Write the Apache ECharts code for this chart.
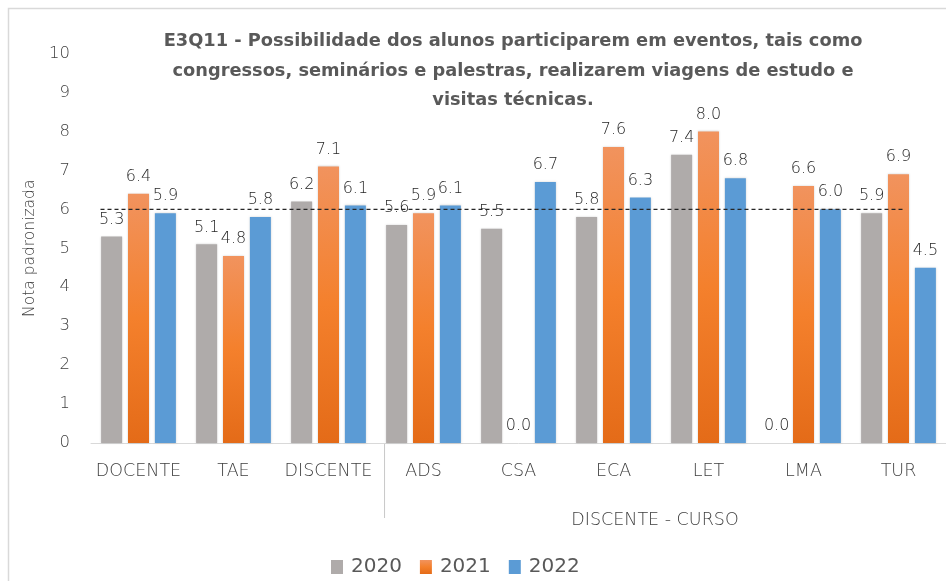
<!DOCTYPE html>
<html>
<head>
<meta charset="utf-8">
<script src="https://cdn.jsdelivr.net/npm/echarts@6/dist/echarts.min.js"></script>
<style>
  html, body { margin: 0; padding: 0; background: #fff; }
  #chart { width: 946px; height: 581px; }
</style>
</head>
<body>
<div id="chart"></div>
<script>
const categories = ['DOCENTE', 'TAE', 'DISCENTE', 'ADS', 'CSA', 'ECA', 'LET', 'LMA', 'TUR']
const values2020 = [5.3, 5.1, 6.2, 5.6, 5.5, 5.8, 7.4, 0.0, 5.9]
const values2021 = [6.4, 4.8, 7.1, 5.9, 0.0, 7.6, 8.0, 6.6, 6.9]
const values2022 = [5.9, 5.8, 6.1, 6.1, 6.7, 6.3, 6.8, 6.0, 4.5]
const yTicks = [0, 1, 2, 3, 4, 5, 6, 7, 8, 9, 10]
// reference line (nota 6) and its extent, in category index units
const refValue = 6
const refSpan = [-0.4, 8.07]
// group separator between DISCENTE and the courses, in category index units
const groupStart = 2.59
const groupLabel = 'DISCENTE - CURSO'

const textColor = '#404040'
const axisFont = '"DejaVu Sans", sans-serif'

const chart = echarts.init(document.getElementById('chart'))

function barSeries(name, data, color) {
  return {
    name: name,
    type: 'bar',
    data: data,
    barWidth: 21,
    barGap: '28%',
    itemStyle: {
      color: color,
      shadowBlur: 2,
      shadowColor: 'rgba(0,0,0,0.18)'
    },
    label: {
      show: true,
      position: 'top',
      distance: 9,
      color: '#262626',
      fontFamily: axisFont,
      fontWeight: 200,
      fontSize: 16,
      formatter: p => p.value.toFixed(1)
    }
  }
}

const orange = new echarts.graphic.LinearGradient(0, 0, 0, 1, [
  { offset: 0, color: '#F1935E' },
  { offset: 0.5, color: '#F4802C' },
  { offset: 1, color: '#E46B18' }
])

chart.setOption({
  animation: false,
  title: {
    text: 'E3Q11 - Possibilidade dos alunos participarem em eventos, tais como\ncongressos, seminários e palestras, realizarem viagens de estudo e\nvisitas técnicas.',
    left: 508,
    top: 22,
    textAlign: 'center',
    textStyle: {
      color: '#595959',
      fontFamily: '"DejaVu Sans", sans-serif',
      fontWeight: 'bold',
      fontSize: 17.8,
      lineHeight: 29.5
    }
  },
  legend: {
    data: ['2020', '2021', '2022'],
    left: 326,
    top: 552,
    icon: 'rect',
    itemWidth: 12,
    itemHeight: 14,
    itemGap: 18,
    textStyle: {
      color: '#595959',
      fontFamily: axisFont,
      fontSize: 20,
      padding: [0, 0, 0, 3]
    }
  },
  grid: {
    left: 91,
    right: -5,
    top: 53.5,
    bottom: 138
  },
  xAxis: [
    {
      type: 'category',
      data: categories,
      axisLine: { lineStyle: { color: '#D9D9D9', width: 1 } },
      axisTick: { show: false },
      axisLabel: {
        interval: 0,
        color: textColor,
        fontFamily: axisFont,
        fontWeight: 200,
        fontSize: 17.5,
        margin: 19
      }
    },
    {
      type: 'value',
      min: -0.5,
      max: categories.length - 0.5,
      show: false
    }
  ],
  yAxis: {
    type: 'value',
    min: yTicks[0],
    max: yTicks[yTicks.length - 1],
    interval: 1,
    name: 'Nota padronizada',
    nameLocation: 'middle',
    nameGap: 52,
    nameTextStyle: {
      color: textColor,
      fontFamily: axisFont,
      fontWeight: 200,
      fontSize: 15.5
    },
    axisLine: { show: false },
    axisTick: { show: false },
    splitLine: { show: false },
    axisLabel: {
      color: textColor,
      fontFamily: axisFont,
      fontWeight: 200,
      fontSize: 16.5,
      margin: 21
    }
  },
  series: [
    barSeries('2020', values2020, '#AFABAA'),
    barSeries('2021', values2021, orange),
    barSeries('2022', values2022, '#5B9BD5'),
    {
      name: 'ref',
      type: 'line',
      xAxisIndex: 1,
      data: refSpan.map(x => [x, refValue]),
      symbol: 'none',
      silent: true,
      z: 5,
      lineStyle: { color: '#262626', width: 1.3, type: [4, 3] }
    }
  ]
})

const sepX = chart.convertToPixel({ xAxisIndex: 1 }, groupStart)
const baseY = chart.convertToPixel({ yAxisIndex: 0 }, 0)
const midX = (chart.convertToPixel({ xAxisIndex: 1 }, 3 - 0.5) + chart.convertToPixel({ xAxisIndex: 1 }, categories.length - 0.5)) / 2

chart.setOption({
  graphic: [
    {
      type: 'rect',
      shape: { x: 8.5, y: 8.5, width: 1000, height: 700 },
      style: { fill: 'none', stroke: '#D9D9D9', lineWidth: 1.5 },
      silent: true,
      z: -10
    },
    {
      type: 'line',
      shape: { x1: sepX, y1: baseY, x2: sepX, y2: baseY + 75 },
      style: { stroke: '#C8C8C8', lineWidth: 1 },
      silent: true
    },
    {
      type: 'text',
      x: midX - 6,
      y: 520,
      style: {
        text: groupLabel,
        fill: textColor,
        font: '200 17.5px ' + axisFont,
        align: 'center',
        verticalAlign: 'middle'
      },
      silent: true
    }
  ]
})
</script>
</body>
</html>
